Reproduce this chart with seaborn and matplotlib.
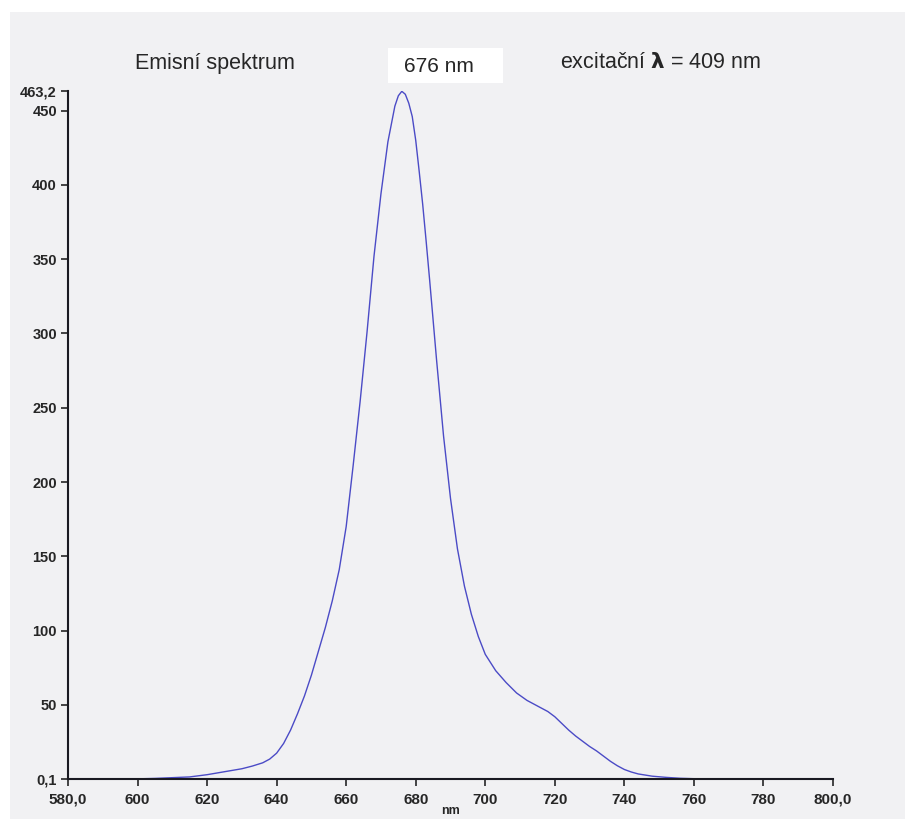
import matplotlib
matplotlib.use("Agg")
import matplotlib.pyplot as plt
import seaborn as sns
import pandas as pd
from matplotlib.patches import Rectangle

# ---- data ----
wavelength_nm = [600, 605, 610, 615, 620, 625, 630, 633, 636, 638, 640, 642, 644, 646, 648,
                 650, 652, 654, 656, 658, 660, 662, 664, 666, 668, 670, 672, 674, 675, 676,
                 677, 678, 679, 680, 681, 682, 683, 684, 686, 688, 690, 692, 694, 696, 698,
                 700, 703, 706, 709, 712, 714, 716, 718, 720, 722, 724, 726, 728, 730, 732,
                 734, 736, 738, 740, 742, 744, 748, 752, 756, 760, 770, 780, 800]
intensity = [0.2, 0.5, 1.0, 1.5, 3.0, 5.0, 7.0, 8.8, 11.0, 13.5, 17.5, 24, 33, 44, 56,
             70, 86, 102, 120, 141, 170, 211, 254, 301, 352, 394, 429, 453, 460, 463,
             461, 455, 446, 430, 409, 387, 362, 336, 282, 231, 189, 155, 130, 111, 96,
             84, 73, 65, 58, 53, 50.5, 48, 45.5, 42, 37.5, 33, 29, 25.5, 22, 19,
             15.5, 12, 9, 6.5, 4.8, 3.5, 2.0, 1.2, 0.6, 0.3, 0.15, 0.1, 0.1]

x_ticks = [580, 600, 620, 640, 660, 680, 700, 720, 740, 760, 780, 800]
x_ticklabels = ["580,0", "600", "620", "640", "660", "680", "700", "720", "740", "760", "780", "800,0"]
y_ticks = [0.1, 50, 100, 150, 200, 250, 300, 350, 400, 450, 463.2]
y_ticklabels = ["0,1", "50", "100", "150", "200", "250", "300", "350", "400", "450", "463,2"]

title_left = "Emisní spektrum"
peak_label = "676 nm"
title_right = "excitační $\\mathbf{\\lambda}$ = 409 nm"
x_label = "nm"

df = pd.DataFrame({"nm": wavelength_nm, "I": intensity})

sns.set_style("ticks")
plt.rcParams["font.family"] = ["Liberation Sans", "DejaVu Sans"]
plt.rcParams["mathtext.fontset"] = "custom"
plt.rcParams["mathtext.bf"] = "DejaVu Sans:bold"

W, H = 910, 819
fig = plt.figure(figsize=(W / 100, H / 100), dpi=100)
fig.patch.set_facecolor("white")
# scanned paper background
fig.patches.append(Rectangle((10 / W, 0), (905 - 10) / W, (H - 12) / H,
                             transform=fig.transFigure, facecolor="#f1f1f3",
                             edgecolor="none", zorder=-3))
# white label box for peak
fig.patches.append(Rectangle((388 / W, 1 - 83 / H), (503 - 388) / W, (83 - 48) / H,
                             transform=fig.transFigure, facecolor="white",
                             edgecolor="none", zorder=-2))

left, right = 68 / W, 833 / W
bottom, top = 1 - 779 / H, 1 - 91 / H
ax = fig.add_axes([left, bottom, right - left, top - bottom])
ax.set_facecolor("none")

sns.lineplot(data=df, x="nm", y="I", ax=ax, color="#4b4bc6", linewidth=1.0)

ax.set_xlim(580, 800)
ax.set_ylim(0.1, 463.2)
ax.set_xticks(x_ticks)
ax.set_xticklabels(x_ticklabels, fontsize=11, fontweight="bold")
ax.set_yticks(y_ticks)
ax.set_yticklabels(y_ticklabels, fontsize=10.5, fontweight="bold")
ax.tick_params(axis="x", direction="out", length=5, width=1.2, pad=5)
ax.tick_params(axis="y", direction="out", length=5, width=1.2, pad=3)
for s in ["top", "right"]:
    ax.spines[s].set_visible(False)
for s in ["left", "bottom"]:
    ax.spines[s].set_linewidth(1.5)
    ax.spines[s].set_color("#1a1a22")
ax.set_xlabel("")
ax.set_ylabel("")
fig.text(450 / W, 1 - 811 / H, x_label, fontsize=9, fontweight="bold",
         ha="center", va="center")

fig.text(135 / W, 1 - 64 / H, title_left, fontsize=15.5, va="center", ha="left")
fig.text(404 / W, 1 - 66 / H, peak_label, fontsize=15, va="center", ha="left", zorder=3)
fig.text(560 / W, 1 - 62 / H, title_right, fontsize=15.5, va="center", ha="left")

fig.savefig("out.png", dpi=100)
